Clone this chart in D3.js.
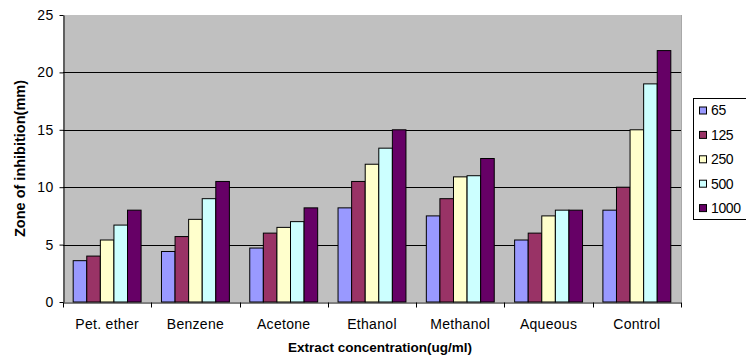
<!DOCTYPE html>
<html>
<head>
<meta charset="utf-8">
<script src="https://cdn.jsdelivr.net/npm/d3@7"></script>
<style>
  html, body { margin: 0; padding: 0; background: #fff; }
  svg { display: block; font-family: "Liberation Sans", Arial, sans-serif; }
</style>
</head>
<body>
<script>
// Zone of inhibition by solvent extract and concentration
const categories = ["Pet. ether", "Benzene", "Acetone", "Ethanol", "Methanol", "Aqueous", "Control"];
const seriesNames = ["65", "125", "250", "500", "1000"];
const values65   = [3.6, 4.4, 4.7, 8.2, 7.5, 5.4, 8];
const values125  = [4, 5.7, 6, 10.5, 9, 6, 10];
const values250  = [5.4, 7.2, 6.5, 12, 10.9, 7.5, 15];
const values500  = [6.7, 9, 7, 13.4, 11, 8, 19];
const values1000 = [8, 10.5, 8.2, 15, 12.5, 8, 21.9];
const yTicks = [0, 5, 10, 15, 20, 25];
const colors = ["#9999FF", "#993366", "#FFFFCC", "#CCFFFF", "#660066"];

const seriesValues = [values65, values125, values250, values500, values1000];

const W = 746, H = 362;
const plot = { left: 63, right: 681, top: 15, bottom: 302 };

const svg = d3.select("body").append("svg").attr("width", W).attr("height", H);

const x0 = d3.scaleBand().domain(categories).range([plot.left, plot.right]).paddingInner(0).paddingOuter(0);
// Excel-style gap width: 150% of a bar, split on both sides of a group
const groupInnerFrac = 5 / 6.5;
const x1 = d3.scaleBand().domain(seriesNames)
  .range([0, x0.bandwidth() * groupInnerFrac]);
const groupOffset = x0.bandwidth() * (1 - groupInnerFrac) / 2;
const y = d3.scaleLinear().domain([0, 25]).range([plot.bottom, plot.top]);

// plot background
svg.append("rect")
  .attr("x", plot.left).attr("y", plot.top)
  .attr("width", plot.right - plot.left).attr("height", plot.bottom - plot.top)
  .attr("fill", "#C0C0C0");
svg.append("line")
  .attr("x1", plot.right + 0.5).attr("x2", plot.right + 0.5)
  .attr("y1", plot.top).attr("y2", plot.bottom)
  .attr("stroke", "#a8a8a8");

// gridlines
svg.append("g").selectAll("line")
  .data(yTicks.filter(t => t > 0 && t < 25))
  .join("line")
  .attr("x1", plot.left).attr("x2", plot.right)
  .attr("y1", d => Math.round(y(d)) + 0.5).attr("y2", d => Math.round(y(d)) + 0.5)
  .attr("stroke", "#000").attr("stroke-width", 1);

// bars
const groups = svg.append("g").selectAll("g")
  .data(categories)
  .join("g")
  .attr("transform", d => `translate(${x0(d) + groupOffset},0)`);

groups.selectAll("rect")
  .data((c, ci) => seriesNames.map((s, si) => ({ s, si, v: seriesValues[si][ci] })))
  .join("rect")
  .attr("x", d => x1(d.s))
  .attr("y", d => y(d.v))
  .attr("width", x1.bandwidth())
  .attr("height", d => y(0) - y(d.v))
  .attr("fill", d => colors[d.si])
  .attr("stroke", "#000")
  .attr("stroke-width", 1);

// y axis
const yAxis = svg.append("g")
  .attr("transform", `translate(${plot.left + 0.5},0)`)
  .call(d3.axisLeft(y).tickValues(yTicks).tickSize(4).tickPadding(6).tickSizeOuter(0));
yAxis.select(".domain").attr("stroke", "#000");
yAxis.selectAll("text").attr("font-size", 14).attr("fill", "#000").attr("letter-spacing", "0.3");

// x axis
const xAxis = svg.append("g")
  .attr("transform", `translate(0,${plot.bottom + 0.5})`)
  .call(d3.axisBottom(x0).tickSize(0).tickPadding(17));
xAxis.select(".domain").attr("stroke", "#000");
xAxis.selectAll("text").attr("font-size", 14).attr("fill", "#000").attr("letter-spacing", "0.3");
// category separators
xAxis.append("g").selectAll("line")
  .data(d3.range(categories.length + 1))
  .join("line")
  .attr("x1", i => Math.round(plot.left + i * x0.bandwidth()) + 0.5)
  .attr("x2", i => Math.round(plot.left + i * x0.bandwidth()) + 0.5)
  .attr("y1", 0).attr("y2", 5)
  .attr("stroke", "#000");

// axis titles
svg.append("text")
  .attr("transform", `translate(25,${(plot.top + plot.bottom) / 2}) rotate(-90)`)
  .attr("text-anchor", "middle")
  .attr("font-size", 14.5).attr("font-weight", "bold")
  .text("Zone of inhibition(mm)");
svg.append("text")
  .attr("x", 380).attr("y", 352)
  .attr("text-anchor", "middle")
  .attr("font-size", 13.5).attr("font-weight", "bold")
  .text("Extract concentration(ug/ml)");

// legend
const legend = svg.append("g").attr("transform", "translate(693,98)");
legend.append("rect")
  .attr("x", 0.5).attr("y", 0.5).attr("width", 60).attr("height", 121)
  .attr("fill", "#fff").attr("stroke", "#000");
const items = legend.selectAll("g.item")
  .data(seriesNames)
  .join("g").attr("class", "item")
  .attr("transform", (d, i) => `translate(0,${12.5 + i * 24.4})`);
items.append("rect")
  .attr("x", 6.5).attr("y", -3.5).attr("width", 7).attr("height", 7)
  .attr("fill", (d, i) => colors[i]).attr("stroke", "#000");
items.append("text")
  .attr("x", 18).attr("y", 0).attr("dy", "0.35em")
  .attr("font-size", 14).attr("letter-spacing", "-0.4")
  .text(d => d);
</script>
</body>
</html>
